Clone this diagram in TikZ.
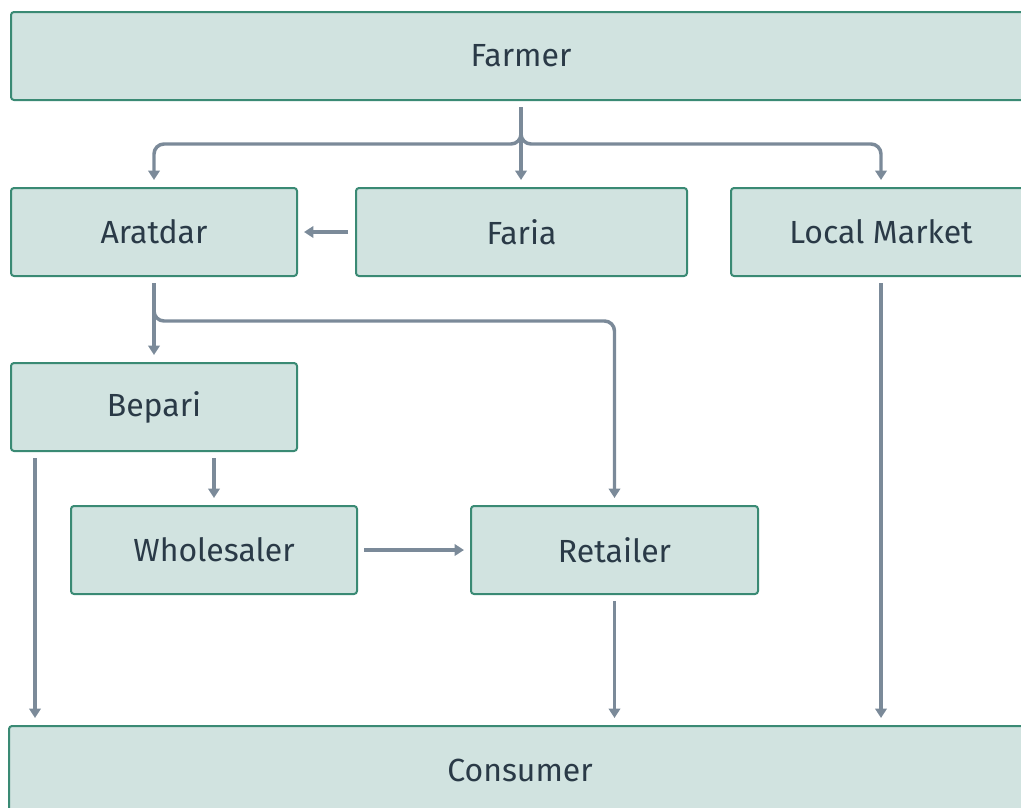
\documentclass[tikz,border=0pt]{standalone}
\usepackage{fontspec}
\setmainfont{Fira Sans}
\usetikzlibrary{arrows.meta,calc}
\definecolor{boxfill}{HTML}{D1E3E0}
\definecolor{boxdraw}{HTML}{3A8A74}
\definecolor{txt}{HTML}{2A3A47}
\definecolor{conncol}{HTML}{7B8A99}
\begin{document}
\begin{tikzpicture}[x=0.75pt,y=-0.75pt,
  box/.style={draw=boxdraw,fill=boxfill,line width=1.5pt,rounded corners=2.25pt,
    minimum height=66pt,inner sep=0pt,text=txt,font=\fontsize{24}{28}\selectfont},
  conn/.style={draw=conncol,line width=2.6pt,-{Triangle[length=7pt,width=8.5pt]},rounded corners=7.5pt}]
\useasboundingbox (0,0) rectangle (1021,807);
\node[box,minimum width=765pt] (farmer) at (521,56) {Farmer};
\node[box,minimum width=214.5pt] (aratdar) at (154,232) {Aratdar};
\node[box,minimum width=248.25pt] (faria) at (521.5,232) {Faria};
\node[box,minimum width=225pt] (local) at (881,232) {Local Market};
\node[box,minimum width=214.5pt] (bepari) at (154,407) {Bepari};
\node[box,minimum width=214.5pt] (wholesaler) at (214,550) {Wholesaler};
\node[box,minimum width=215.25pt] (retailer) at (614.5,550) {Retailer};
\node[box,minimum width=766.5pt] (consumer) at (520,770) {Consumer};
% farmer branches
\draw[conn] ($(farmer.south)+(0,6)$) -- ($(farmer.south |- faria.north)+(0,-7)$);
\draw[conn] ($(farmer.south)+(0,6)$) -- ($(farmer.south)+(0,43)$) -| ($(aratdar.north)+(0,-7)$);
\draw[conn] ($(farmer.south)+(0,6)$) -- ($(farmer.south)+(0,43)$) -| ($(local.north)+(0,-7)$);
\draw[conn] ($(faria.west)+(-7,0)$) -- ($(aratdar.east)+(6,0)$);
% aratdar
\draw[conn] ($(aratdar.south)+(0,6)$) -- ($(bepari.north)+(0,-7)$);
\draw[conn] ($(aratdar.south)+(0,6)$) -- ($(aratdar.south)+(0,44)$) -| ($(retailer.north)+(0,-7)$);
% bepari
\draw[conn] ($(bepari.south west)+(25,6)$) -- ($(bepari.south west |- consumer.north)+(25,-7)$);
\draw[conn] ($(bepari.south -| wholesaler.north)+(0,6)$) -- ($(wholesaler.north)+(0,-7)$);
% wholesaler, retailer, local market
\draw[conn] ($(wholesaler.east)+(6,0)$) -- ($(retailer.west)+(-6,0)$);
\draw[conn] ($(retailer.south)+(0,6)$) -- ($(retailer.south |- consumer.north)+(0,-7)$);
\draw[conn] ($(local.south)+(0,6)$) -- ($(local.south |- consumer.north)+(0,-7)$);
\end{tikzpicture}
\end{document}
